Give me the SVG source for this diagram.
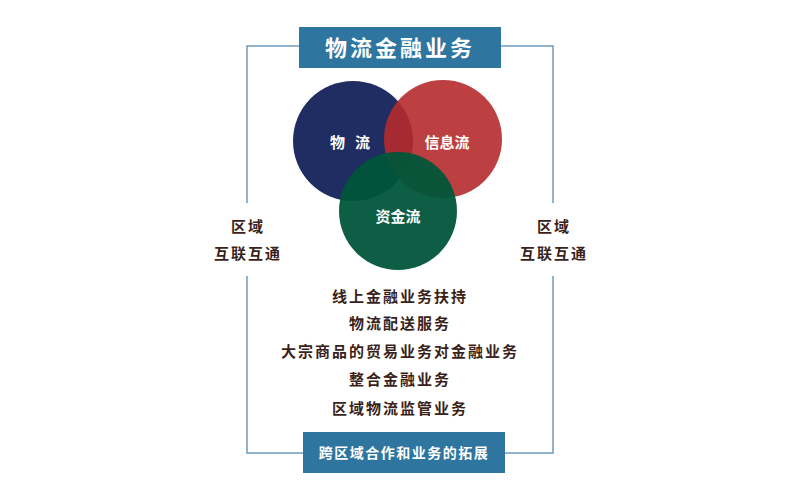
<svg xmlns="http://www.w3.org/2000/svg" width="800" height="500" viewBox="0 0 800 500">
<style>
.ln{stroke:#6f9cc0;stroke-width:1.5;fill:none}
.t{font-family:"Noto Sans CJK SC",sans-serif;font-weight:bold;fill:#3a1f1a;font-size:15px;text-anchor:middle;letter-spacing:2px}
.w{font-family:"Noto Sans CJK SC",sans-serif;font-weight:bold;fill:#fff;text-anchor:middle}
.box{fill:#2e76a0}
</style>
<rect width="800" height="500" fill="#fff"/>
<g id="connectors">
<polyline class="ln" points="299,46 247,46 247,203"/>
<polyline class="ln" points="247,276 247,453 303,453"/>
<polyline class="ln" points="501,46 553,46 553,203"/>
<polyline class="ln" points="553,276 553,453 505,453"/>
</g>
<g id="title"><rect class="box" x="299" y="27" width="202" height="41"/><text class="w" x="400" y="56" font-size="22" letter-spacing="3">物流金融业务</text></g>
<g id="wuliu"><circle cx="353" cy="141" r="60" fill="#1f2d62"/><text class="w" x="350" y="148" font-size="15" xml:space="preserve">物   流</text></g>
<g id="xinxi"><circle cx="443" cy="139" r="59" fill="#b52a2c" fill-opacity="0.9"/><text class="w" x="447" y="148" font-size="15">信息流</text></g>
<g id="zijin"><circle cx="398" cy="211" r="59" fill="#00553a" fill-opacity="0.95"/><text class="w" x="398" y="222" font-size="15">资金流</text></g>
<g id="left"><text class="t" x="248" y="232">区域</text><text class="t" x="248" y="259">互联互通</text></g>
<g id="right"><text class="t" x="554" y="232">区域</text><text class="t" x="554" y="259">互联互通</text></g>
<g id="list">
<text class="t" x="400" y="302">线上金融业务扶持</text>
<text class="t" x="400" y="329">物流配送服务</text>
<text class="t" x="400" y="357">大宗商品的贸易业务对金融业务</text>
<text class="t" x="400" y="385">整合金融业务</text>
<text class="t" x="400" y="414">区域物流监管业务</text>
</g>
<g id="bottom"><rect class="box" x="303" y="432" width="202" height="41"/><text class="w" x="404" y="458" font-size="14" letter-spacing="1.5">跨区域合作和业务的拓展</text></g>
</svg>
